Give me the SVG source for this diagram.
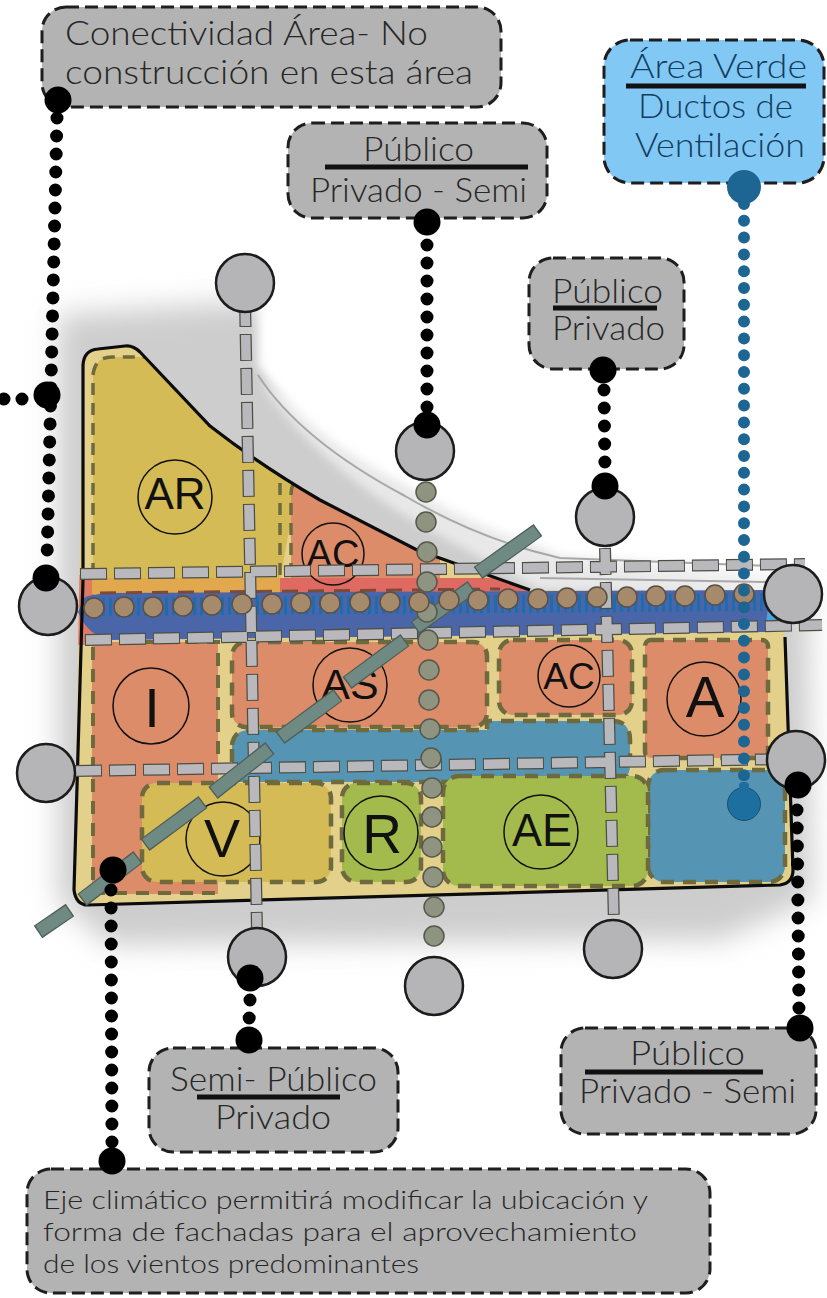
<svg xmlns="http://www.w3.org/2000/svg" width="827" height="1298" viewBox="0 0 827 1298">
<style>
.box{fill:#b3b3b3;stroke:#1e1e1e;stroke-width:3;stroke-dasharray:13 6}
.t{font-family:"Lato","Liberation Sans",sans-serif;font-weight:300;fill:#262626;font-size:33px}
.s{font-size:26px}
.b{fill:#123d5e}
.rule{stroke:#111;stroke-width:5;fill:none}
.lbl{font-family:"Liberation Sans",Arial,sans-serif;fill:#111;text-anchor:middle}
.ring{fill:none;stroke:#111;stroke-width:1.5}
.hub{fill:#b5b5b7;stroke:#1c1c1c;stroke-width:2.5}
.dots{stroke:#000;stroke-width:13;stroke-linecap:round;stroke-dasharray:0 18;fill:none}
.big{fill:#000}
.reg{stroke:#6f6a3e;stroke-width:4.5;stroke-dasharray:13 9}
.dO{stroke:#4d4f45;stroke-width:12;fill:none}
.dI{stroke:#b9b9bd;stroke-width:9.5;fill:none}
.cl{stroke:#4f5f5a;stroke-width:15;fill:none}
.cl2{stroke:#6f8a82;stroke-width:12.5;fill:none}
.ol{fill:#8f9480;stroke:#55584b;stroke-width:1.5}
.br{fill:#a68a6c;stroke:#5b5043;stroke-width:1.5}
</style>
<defs>
<filter id="blur" x="-20%" y="-20%" width="140%" height="140%"><feGaussianBlur stdDeviation="14"/></filter>
<filter id="soft" x="-10%" y="-10%" width="120%" height="120%"><feGaussianBlur stdDeviation="5"/></filter>
<clipPath id="site"><path d="M83 365Q84 350 98 349L125 346Q133 345 140 352L210 426Q260 465 320 500L417 550L530 590L775 592L785 637L793 870Q793 883 780 885L88 905Q76 905 74 890Z"/></clipPath>
</defs>
<rect width="827" height="1298" fill="#fff"/>
<g id="shadow">
<path d="M58 315L270 300L500 440L560 540L808 590L812 900L720 940L110 945L58 900Z" fill="#cdcdcd" filter="url(#blur)"/>
<path d="M258 300L258 365Q300 430 400 482Q480 530 560 556L840 570L840 250L258 250Z" fill="#fff" filter="url(#soft)"/>
<path d="M258 380Q320 470 430 530L540 590L790 600L790 560L540 550Z" fill="#fff" fill-opacity=".55" filter="url(#soft)"/>
<path d="M258 375Q300 440 405 496Q480 540 560 558L770 566M540 578L770 582" fill="none" stroke="#a8a8a8" stroke-width="2"/>
</g>
<g id="site-plan">
<path d="M83 365Q84 350 98 349L125 346Q133 345 140 352L210 426Q260 465 320 500L417 550L530 590L775 592L785 637L793 870Q793 883 780 885L88 905Q76 905 74 890Z" fill="#e3d08a"/>
<g clip-path="url(#site)">
<path d="M93 375Q95 357 112 357L200 357L300 470L280 580L93 580Z" fill="#d4bb55"/>
<path d="M291 480L440 540L440 590L291 590Z" fill="#dd8c6a"/>
<rect x="74" y="575" width="20" height="70" fill="#de7a62"/>
<rect x="92" y="578" width="188" height="16" fill="#e2a84e"/>
<path d="M280 578L500 578L540 596L280 596Z" fill="#de6a62"/>
<path d="M92 642H218V894H92Z" fill="#dd8c6a"/>
<path d="M93 880V642H218V770M92 893H215" fill="none" stroke="#6f6a3e" stroke-width="4" stroke-dasharray="13 9"/>
<path d="M93 575V375Q95 357 112 357H150M280 575V480M291 575V495Q291 485 296 480" fill="none" stroke="#6f6a3e" stroke-width="3.5" stroke-dasharray="12 8"/>
</g>
<rect class="reg" x="232" y="642" width="255" height="85" rx="14" fill="#dd8c6a"/>
<rect class="reg" x="499" y="640" width="133" height="75" rx="14" fill="#dd8c6a"/>
<rect class="reg" x="645" y="640" width="123" height="118" rx="6" fill="#dd8c6a"/>
<path class="reg" d="M232 745Q234 730 250 730H487V721H612Q630 721 630 740V765Q630 782 612 782H232Z" fill="#5595b3"/>
<rect class="reg" x="648" y="770" width="137" height="112" rx="16" fill="#5595b3"/>
<rect class="reg" x="142" y="783" width="189" height="99" rx="15" fill="#d4bb55"/>
<rect class="reg" x="342" y="783" width="79" height="99" rx="15" fill="#a3bb4d"/>
<rect class="reg" x="443" y="776" width="205" height="110" rx="16" fill="#a3bb4d"/>
<path d="M84 598Q90 594 110 593L770 590L782 612L770 632L110 640Q88 636 78 612Z" fill="#4a66a8"/>
<line x1="88" y1="607" x2="770" y2="602" stroke="#1c6db0" stroke-width="18" stroke-dasharray="3 4"/>
<line x1="100" y1="593" x2="500" y2="589" stroke="#7a4a3a" stroke-width="3" stroke-dasharray="16 10"/>
<path d="M770 592L782 612L765 632Z" fill="#4aa8e0"/>
<path d="M83 580L74 890Q76 905 88 905L780 885Q793 883 793 870L785 637" fill="none" stroke="#0c0c0c" stroke-width="3.2"/>
<path d="M83 365Q84 350 98 349L125 346Q133 345 140 352L210 426Q260 465 320 500L417 550L530 590M83 365L83 580" fill="none" stroke="#0c0c0c" stroke-width="3.2"/>
</g>
<g id="zone-AR"><circle class="ring" cx="175" cy="497" r="37"/><text class="lbl" x="175" y="509" font-size="44">AR</text></g>
<g id="zone-AC1"><circle class="ring" cx="333" cy="554" r="31"/><text class="lbl" x="333" y="567" font-size="38">AC</text></g>
<g id="zone-I"><circle class="ring" cx="151" cy="706" r="38"/><text class="lbl" x="152" y="727" font-size="56">I</text></g>
<g id="zone-AS"><circle class="ring" cx="350" cy="685" r="37"/><text class="lbl" x="350" y="699" font-size="43">AS</text></g>
<g id="zone-AC2"><circle class="ring" cx="569" cy="676" r="31"/><text class="lbl" x="569" y="689" font-size="37">AC</text></g>
<g id="zone-A"><circle class="ring" cx="704" cy="699" r="37"/><text class="lbl" x="705" y="717" font-size="58">A</text></g>
<g id="zone-V"><circle class="ring" cx="223" cy="839" r="37"/><text class="lbl" x="222" y="857" font-size="54">V</text></g>
<g id="zone-R"><circle class="ring" cx="381" cy="833" r="37"/><text class="lbl" x="382" y="853" font-size="55">R</text></g>
<g id="zone-AE"><circle class="ring" cx="541" cy="832" r="37"/><text class="lbl" x="542" y="846" font-size="46" textLength="60" lengthAdjust="spacingAndGlyphs">AE</text></g>
<g id="connectors">
<g stroke-dasharray="27 7">
<path class="dO" d="M80 574L805 564M85 640L822 625M75 771L790 759M245 300L257 930M605 548L614 925"/>
</g>
<g stroke-dasharray="25 9" stroke-dashoffset="-1">
<path class="dI" d="M80 574L805 564M85 640L822 625M75 771L790 759M245 300L257 930M605 548L614 925"/>
</g>
<g id="climate-axis">
<path class="cl" d="M38 932L70 910M82 900L138 857M145 845L203 802M213 793L270 748M280 738L338 695M347 683L405 640M415 628L472 587M478 573L538 530"/>
<path class="cl2" d="M39 931L69 911M83 899L137 858M146 844L202 803M214 792L269 749M281 737L337 696M348 682L404 641M416 627L471 588M479 572L537 531"/>
</g>
<g id="olive-dots">
<circle class="ol" cx="426" cy="492" r="10"/><circle class="ol" cx="426" cy="522" r="10"/><circle class="ol" cx="427" cy="552" r="10"/><circle class="ol" cx="427" cy="582" r="10"/><circle class="ol" cx="427" cy="612" r="10"/><circle class="ol" cx="428" cy="640" r="10"/><circle class="ol" cx="429" cy="670" r="10"/><circle class="ol" cx="429" cy="700" r="10"/><circle class="ol" cx="430" cy="729" r="10"/><circle class="ol" cx="431" cy="758" r="10"/><circle class="ol" cx="432" cy="788" r="10"/><circle class="ol" cx="432" cy="817" r="10"/><circle class="ol" cx="432" cy="847" r="10"/><circle class="ol" cx="433" cy="877" r="10"/><circle class="ol" cx="434" cy="907" r="10"/><circle class="ol" cx="434" cy="936" r="10"/>
</g>
<g id="brown-dots">
<circle class="br" cx="94" cy="608" r="10"/><circle class="br" cx="124" cy="607" r="10"/><circle class="br" cx="153" cy="607" r="10"/><circle class="br" cx="183" cy="606" r="10"/><circle class="br" cx="212" cy="605" r="10"/><circle class="br" cx="242" cy="604" r="10"/><circle class="br" cx="272" cy="604" r="10"/><circle class="br" cx="301" cy="603" r="10"/><circle class="br" cx="330" cy="603" r="10"/><circle class="br" cx="360" cy="602" r="10"/><circle class="br" cx="390" cy="602" r="10"/><circle class="br" cx="419" cy="602" r="10"/><circle class="br" cx="449" cy="600" r="10"/><circle class="br" cx="478" cy="600" r="10"/><circle class="br" cx="508" cy="599" r="10"/><circle class="br" cx="538" cy="599" r="10"/><circle class="br" cx="567" cy="598" r="10"/><circle class="br" cx="597" cy="597" r="10"/><circle class="br" cx="627" cy="597" r="10"/><circle class="br" cx="656" cy="596" r="10"/><circle class="br" cx="685" cy="596" r="10"/><circle class="br" cx="715" cy="595" r="10"/><circle class="br" cx="744" cy="594" r="10"/>
</g>
</g>
<g id="hub-1"><circle class="hub" cx="245" cy="283" r="29"/></g>
<g id="hub-2"><circle class="hub" cx="425" cy="451" r="29"/></g>
<g id="hub-3"><circle class="hub" cx="605" cy="517" r="29"/></g>
<g id="hub-4"><circle class="hub" cx="793" cy="594" r="29"/></g>
<g id="hub-5"><circle class="hub" cx="48" cy="606" r="29"/></g>
<g id="hub-6"><circle class="hub" cx="46" cy="773" r="29"/></g>
<g id="hub-7"><circle class="hub" cx="796" cy="760" r="29"/></g>
<g id="hub-8"><circle class="hub" cx="257" cy="957" r="29"/></g>
<g id="hub-9"><circle class="hub" cx="434" cy="986" r="29"/></g>
<g id="hub-10"><circle class="hub" cx="613" cy="949" r="29"/></g>
<g id="box-conectividad"><rect class="box" x="42" y="7" width="459" height="100" rx="24"/>
<text class="t" x="65" y="45" textLength="363" lengthAdjust="spacingAndGlyphs">Conectividad Área- No</text>
<text class="t" x="65" y="84" textLength="408" lengthAdjust="spacingAndGlyphs">construcción en esta área</text></g>
<g id="box-publico-1"><rect class="box" x="288" y="123" width="259" height="95" rx="24"/>
<text class="t" x="363" y="161" textLength="111" lengthAdjust="spacingAndGlyphs">Público</text>
<line class="rule" x1="325" y1="167" x2="528" y2="167"/>
<text class="t" x="310" y="202" textLength="217" lengthAdjust="spacingAndGlyphs">Privado - Semi</text></g>
<g id="box-publico-2"><rect class="box" x="529" y="258" width="155" height="111" rx="24"/>
<text class="t" x="552" y="303" textLength="111" lengthAdjust="spacingAndGlyphs">Público</text>
<line class="rule" x1="553" y1="308" x2="657" y2="308"/>
<text class="t" x="552" y="340" textLength="113" lengthAdjust="spacingAndGlyphs">Privado</text></g>
<g id="box-verde"><rect class="box" x="604" y="40" width="220" height="143" rx="26" style="fill:#82c8f5"/>
<text class="t b" x="630" y="78" textLength="177" lengthAdjust="spacingAndGlyphs">Área Verde</text>
<line class="rule" x1="626" y1="86" x2="806" y2="86"/>
<text class="t b" x="638" y="118" textLength="155" lengthAdjust="spacingAndGlyphs">Ductos de</text>
<text class="t b" x="635" y="157" textLength="170" lengthAdjust="spacingAndGlyphs">Ventilación</text></g>
<g id="box-semi"><rect class="box" x="149" y="1048" width="249" height="104" rx="24"/>
<text class="t" x="170" y="1091" textLength="207" lengthAdjust="spacingAndGlyphs">Semi- Público</text>
<line class="rule" x1="197" y1="1097" x2="340" y2="1097"/>
<text class="t" x="215" y="1129" textLength="116" lengthAdjust="spacingAndGlyphs">Privado</text></g>
<g id="box-publico-3"><rect class="box" x="561" y="1028" width="255" height="106" rx="24"/>
<text class="t" x="630" y="1065" textLength="115" lengthAdjust="spacingAndGlyphs">Público</text>
<line class="rule" x1="585" y1="1072" x2="763" y2="1072"/>
<text class="t" x="579" y="1103" textLength="217" lengthAdjust="spacingAndGlyphs">Privado - Semi</text></g>
<g id="box-eje"><rect class="box" x="27" y="1169" width="683" height="124" rx="24"/>
<text class="t s" x="43" y="1209" textLength="605" lengthAdjust="spacingAndGlyphs">Eje climático permitirá modificar la ubicación y</text>
<text class="t s" x="43" y="1241" textLength="594" lengthAdjust="spacingAndGlyphs">forma de fachadas para el aprovechamiento</text>
<text class="t s" x="43" y="1273" textLength="376" lengthAdjust="spacingAndGlyphs">de los vientos predominantes</text></g>
<g id="links">
<line class="dots" x1="57" y1="118" x2="47" y2="560"/>
<line class="dots" x1="4" y1="399" x2="24" y2="399" stroke-dasharray="0 20"/>
<line class="dots" x1="427" y1="245" x2="427" y2="410"/>
<line class="dots" x1="604" y1="390" x2="605" y2="470"/>
<line class="dots" x1="797" y1="810" x2="799" y2="1012"/>
<line class="dots" x1="111" y1="890" x2="112" y2="1145"/>
<line class="dots" x1="250" y1="1000" x2="249" y2="1022"/>
<line x1="744" y1="204" x2="744" y2="792" stroke="#1d6593" stroke-width="12" stroke-linecap="round" stroke-dasharray="0 16.8"/>
<circle cx="744" cy="187" r="17" fill="#1d6593"/><rect x="739" y="198" width="10" height="10" rx="4" fill="#1d6593"/>
<circle cx="744" cy="804" r="16.5" fill="#1d6f9f" stroke="#1a4f73"/><rect x="739" y="782" width="10" height="12" rx="4" fill="#1d6f9f"/>
<circle class="big" cx="58" cy="100" r="13.5"/><circle class="big" cx="47" cy="395" r="13.5"/><circle class="big" cx="46" cy="578" r="13.5"/>
<circle class="big" cx="427" cy="222" r="13.5"/><circle class="big" cx="427" cy="425" r="13.5"/>
<circle class="big" cx="603" cy="370" r="13.5"/><circle class="big" cx="605" cy="486" r="13.5"/>
<circle class="big" cx="798" cy="785" r="13.5"/><circle class="big" cx="800" cy="1028" r="13.5"/>
<circle class="big" cx="113" cy="870" r="13.5"/><circle class="big" cx="112" cy="1161" r="13.5"/>
<circle class="big" cx="250" cy="978" r="13.5"/><circle class="big" cx="249" cy="1040" r="13.5"/>
</g>
</svg>
